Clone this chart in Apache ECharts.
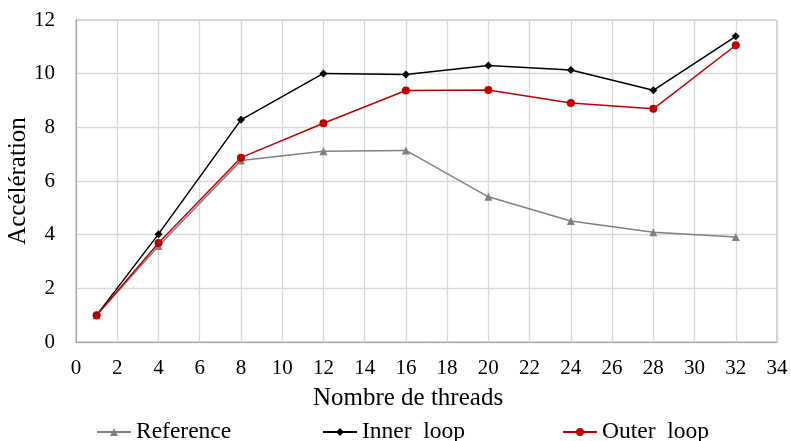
<!DOCTYPE html>
<html><head><meta charset="utf-8">
<script src="https://cdn.jsdelivr.net/npm/echarts@6/dist/echarts.min.js"></script>
<style>html,body{margin:0;padding:0;background:#fff}#c{width:791px;height:441px}</style>
</head><body><div id="c"></div>
<script>
var threads = [1, 4, 8, 12, 16, 20, 24, 28, 32];
var referenceVals = [1.0, 3.58, 6.76, 7.11, 7.14, 5.41, 4.51, 4.09, 3.91];
var innerVals = [1.0, 4.02, 8.28, 10.01, 9.97, 10.30, 10.14, 9.38, 11.39];
var outerVals = [1.0, 3.69, 6.87, 8.15, 9.37, 9.39, 8.91, 8.69, 11.06];
var seriesNames = ['Reference', 'Inner  loop', 'Outer  loop'];
var xTitle = 'Nombre de threads';
var yTitle = 'Accélération';

function pairs(v){ return threads.map(function(t,i){ return [t, v[i]]; }); }
var font = 'Liberation Serif, Times New Roman, serif';
var legendBase = {top: 415, itemWidth: 34, itemHeight: 10,
  textStyle: {fontFamily: font, fontSize: 23.5, color: '#000'}};
var chart = echarts.init(document.getElementById('c'));
chart.setOption({
  animation: false,
  grid: {left: 76, right: 14, top: 20, bottom: 99, containLabel: false, outerBoundsMode: 'none',
         show: true, borderColor: '#a6a6a6', borderWidth: 1},
  xAxis: {
    type: 'value', min: 0, max: 34, interval: 2,
    name: xTitle, nameLocation: 'middle', nameGap: 44, nameMoveOverlap: false,
    nameTextStyle: {fontFamily: font, fontSize: 25, color: '#000', padding: [0, 37, 0, 0]},
    axisLine: {show: true, lineStyle: {color: '#a6a6a6'}},
    axisTick: {show: false},
    axisLabel: {fontFamily: font, fontSize: 21, color: '#000', margin: 16},
    splitLine: {show: true, lineStyle: {color: '#d9d9d9', width: 1.3}}
  },
  yAxis: {
    type: 'value', min: 0, max: 12, interval: 2,
    name: yTitle, nameLocation: 'middle', nameGap: 45, nameMoveOverlap: false,
    nameTextStyle: {fontFamily: font, fontSize: 25, color: '#000'},
    axisLine: {show: true, lineStyle: {color: '#a6a6a6'}},
    axisTick: {show: false},
    axisLabel: {fontFamily: font, fontSize: 21, color: '#000', margin: 21},
    splitLine: {show: true, lineStyle: {color: '#d9d9d9', width: 1.3}}
  },
  legend: [
    Object.assign({left: 91, data: [seriesNames[0]]}, legendBase),
    Object.assign({left: 317, data: [seriesNames[1]]}, legendBase),
    Object.assign({left: 557, data: [seriesNames[2]]}, legendBase)
  ],
  series: [
    {name: seriesNames[0], type: 'line', data: pairs(referenceVals), symbol: 'triangle', symbolSize: 8,
     lineStyle: {color: '#808080', width: 1.5}, itemStyle: {color: '#808080'}, z: 2},
    {name: seriesNames[1], type: 'line', data: pairs(innerVals), symbol: 'diamond', symbolSize: 8,
     lineStyle: {color: '#000000', width: 1.5}, itemStyle: {color: '#000000'}, z: 3},
    {name: seriesNames[2], type: 'line', data: pairs(outerVals), symbol: 'circle', symbolSize: 8,
     lineStyle: {color: '#c00000', width: 1.5}, itemStyle: {color: '#c00000'}, z: 4}
  ]
});
</script></body></html>
